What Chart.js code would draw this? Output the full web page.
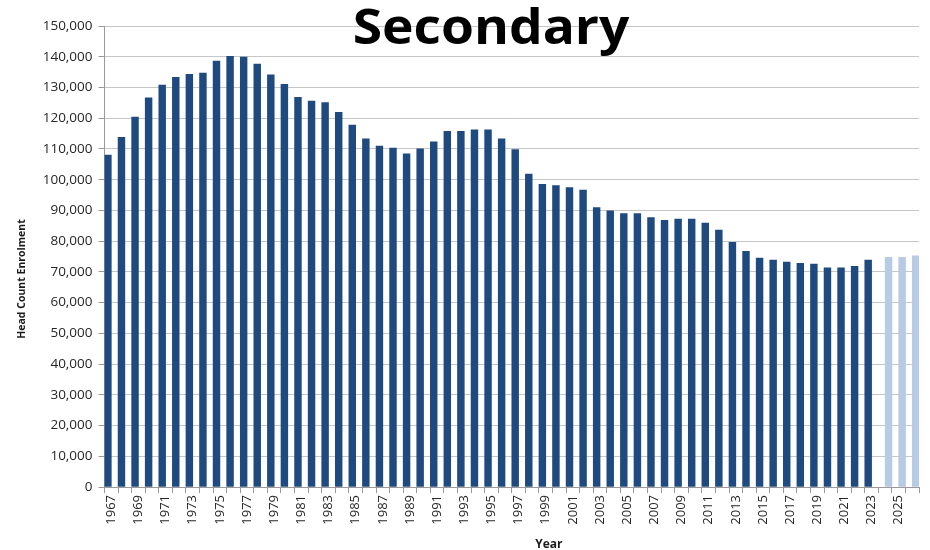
<!DOCTYPE html>
<html>
<head>
<meta charset="utf-8">
<script src="https://cdn.jsdelivr.net/npm/chart.js@4/dist/chart.umd.min.js"></script>
<style>
  html, body { margin: 0; padding: 0; background: #ffffff; }
  #wrap { width: 930px; height: 550px; position: relative; }
</style>
</head>
<body>
<div id="wrap"><canvas id="c" width="930" height="550"></canvas></div>
<script>
// School years shown on the horizontal axis
const years = [
  '1967','1968','1969','1970','1971','1972','1973','1974','1975','1976',
  '1977','1978','1979','1980','1981','1982','1983','1984','1985','1986',
  '1987','1988','1989','1990','1991','1992','1993','1994','1995','1996',
  '1997','1998','1999','2000','2001','2002','2003','2004','2005','2006',
  '2007','2008','2009','2010','2011','2012','2013','2014','2015','2016',
  '2017','2018','2019','2020','2021','2022','2023','2024','2025','2026'
];

// Actual head count enrolment, 1967–2023
const actualEnrolment = [
  108000, 113800, 120400, 126600, 130800, 133300, 134300, 134700, 138600, 140100,
  139900, 137600, 134100, 131000, 126800, 125600, 125100, 121900, 117800, 113300,
  110900, 110300, 108400, 110000, 112300, 115700, 115700, 116200, 116200, 113300,
  109800, 101800, 98500, 98100, 97400, 96600, 90900, 89900, 89000, 89000,
  87700, 86800, 87200, 87200, 85900, 83600, 79600, 76700, 74500, 73800,
  73200, 72800, 72500, 71300, 71300, 71800, 73800
];

// Projected head count enrolment, 2024–2026
const projectedEnrolment = [74700, 74700, 75200];

// Value axis ticks
const yTicks = [0, 10000, 20000, 30000, 40000, 50000, 60000, 70000, 80000,
                90000, 100000, 110000, 120000, 130000, 140000, 150000];

const actualSeries = actualEnrolment.concat(projectedEnrolment.map(() => null));
const projectedSeries = actualEnrolment.map(() => null).concat(projectedEnrolment);

// Title and axis captions painted on the canvas
const captions = {
  id: 'captions',
  afterDraw(chart) {
    const { ctx, chartArea } = chart;
    ctx.save();
    ctx.fillStyle = '#000000';
    ctx.textAlign = 'center';
    ctx.textBaseline = 'alphabetic';
    ctx.font = 'bold 48px "Open Sans"';
    ctx.save();
    ctx.translate(491, 44);
    ctx.scale(1.11, 1);
    ctx.fillText('Secondary', 0, 0);
    ctx.restore();

    ctx.fillStyle = '#1a1a1a';
    ctx.font = 'bold 12px "Open Sans"';
    ctx.fillText('Year', (chartArea.left + chartArea.right) / 2 + 37, 548);

    ctx.translate(22, 279);
    ctx.rotate(-Math.PI / 2);
    ctx.textBaseline = 'middle';
    ctx.font = 'bold 10.5px "Open Sans"';
    ctx.fillText('Head Count Enrolment', 0, 0);
    ctx.restore();
  }
};

new Chart(document.getElementById('c'), {
  type: 'bar',
  data: {
    labels: years,
    datasets: [
      {
        label: 'Actual',
        data: actualSeries,
        backgroundColor: '#1F4A7F',
        categoryPercentage: 1.0,
        barPercentage: 1.0
      },
      {
        label: 'Projected',
        data: projectedSeries,
        backgroundColor: '#B7CBE4',
        categoryPercentage: 1.0,
        barPercentage: 1.0
      }
    ]
  },
  options: {
    responsive: false,
    animation: false,
    devicePixelRatio: 1,
    layout: { padding: { left: 0, right: 10, top: 26, bottom: 0 } },
    plugins: {
      legend: { display: false },
      title: { display: false },
      tooltip: { enabled: false }
    },
    scales: {
      x: {
        afterFit(scale) { scale.height = 63; },
        grid: {
          offset: true,
          drawOnChartArea: false,
          drawTicks: true,
          tickLength: 6,
          color: '#9a9a9a'
        },
        border: { color: '#9a9a9a', width: 1 },
        ticks: {
          autoSkip: false,
          maxRotation: 90,
          minRotation: 90,
          padding: 2,
          color: '#262626',
          font: { family: '"Open Sans"', size: 13 },
          callback(value, index) { return index % 2 === 0 ? years[index] : ''; }
        }
      },
      y: {
        min: 0,
        max: 150000,
        afterFit(scale) { scale.width = 104.5; },
        afterBuildTicks(scale) { scale.ticks = yTicks.map(v => ({ value: v })); },
        grid: {
          color: '#c6c6c6',
          lineWidth: 1,
          drawTicks: true,
          tickLength: 6,
          tickColor: '#9a9a9a'
        },
        border: { color: '#9a9a9a', width: 1 },
        ticks: {
          padding: 6,
          color: '#262626',
          font: { family: '"Open Sans"', size: 13.5 },
          callback(value) { return value.toLocaleString('en-US'); }
        }
      }
    }
  },
  plugins: [captions]
});
</script>
</body>
</html>
